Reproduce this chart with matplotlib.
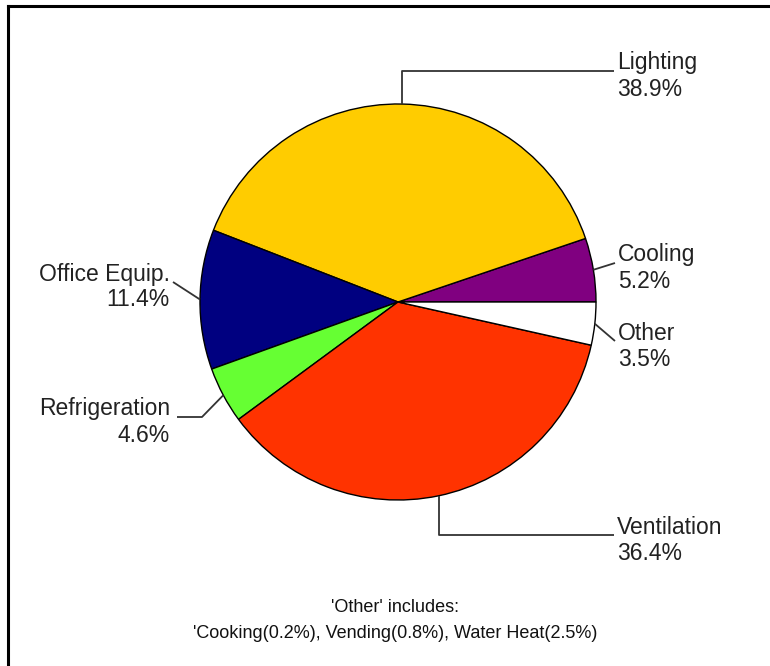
import numpy as np
import matplotlib
matplotlib.use("Agg")
import matplotlib.pyplot as plt

# slice data, counter-clockwise from 3 o'clock
names = ["Cooling", "Lighting", "Office Equip.", "Refrigeration", "Ventilation", "Other"]
shares = [5.2, 38.9, 11.4, 4.6, 36.4, 3.5]
colors = ["#800080", "#FFCC00", "#000080", "#66FF33", "#FF3300", "#FFFFFF"]
note_lines = ["'Other' includes:", "'Cooking(0.2%), Vending(0.8%), Water Heat(2.5%)"]

W, H = 770, 666
cx, cy, R = 398, 302, 198   # pie centre / radius in pixels (y from top)

def py(y):
    return H - y

fig = plt.figure(figsize=(W / 100, H / 100), dpi=100)
ax = fig.add_axes([0, 0, 1, 1])

wedges, _ = ax.pie(shares, colors=colors, startangle=0, counterclock=True,
                   center=(cx, py(cy)), radius=R,
                   wedgeprops=dict(edgecolor="black", linewidth=1.0))
ax.set_xlim(0, W)
ax.set_ylim(0, H)
ax.set_aspect("equal")
ax.axis("off")

# leader layout: (side, elbow rule, line end x, line end y, text gap)
layout = {
    "Lighting":      ("right", "vert", 614, 71, 3),
    "Cooling":       ("right", "diag", 615, 263, 3),
    "Other":         ("right", "diag", 615, 341, 3),
    "Ventilation":   ("right", "vert", 614, 535, 3),
    "Office Equip.": ("left",  "diag", 173, 282, 3),
    "Refrigeration": ("left",  "horz", 177, 417, 7),
}
label_font = dict(family=["Liberation Sans", "DejaVu Sans"], fontsize=16.5, color="#222222")

for w, name, pct in zip(wedges, names, shares):
    mid = np.deg2rad((w.theta1 + w.theta2) / 2)
    ex = cx + R * np.cos(mid)
    ey = cy - R * np.sin(mid)
    side, rule, lx, ly, gap = layout[name]
    if rule == "vert":
        xs, ys = [ex, ex, lx], [ey, ly, ly]
    elif rule == "horz":
        kx = 202
        xs, ys = [ex, kx, lx], [ey, ly, ly]
    else:
        xs, ys = [ex, lx], [ey, ly]
    ax.plot(xs, [py(v) for v in ys], color="#333333", lw=1.3, solid_capstyle="butt")
    if side == "right":
        tx, ha = lx + gap, "left"
    else:
        tx, ha = lx - gap, "right"
    ty = ly - 8
    ax.text(tx, py(ty), name, ha=ha, va="center", **label_font)
    ax.text(tx, py(ty + 26), f"{pct:.1f}%", ha=ha, va="center", **label_font)

note_font = dict(family=["Liberation Sans", "DejaVu Sans"], fontsize=13, color="#111111")
for i, line in enumerate(note_lines):
    ax.text(395, py(608 + 26 * i), line, ha="center", va="center", **note_font)

# frame: top and left edges only
ax.plot([8, W], [py(6), py(6)], color="black", lw=2.2, clip_on=False)
ax.plot([8, 8], [py(6), 0], color="black", lw=2.2, clip_on=False)

fig.savefig("out.png", dpi=100)
